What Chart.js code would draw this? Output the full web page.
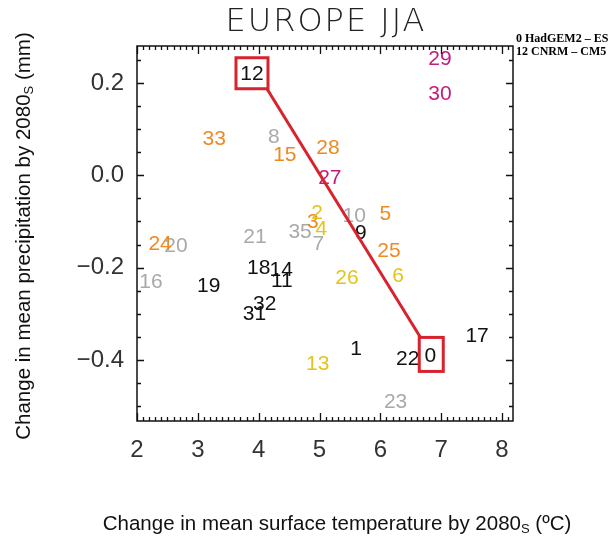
<!DOCTYPE html>
<html>
<head>
<meta charset="utf-8">
<script src="https://cdn.jsdelivr.net/npm/chart.js@4.4.0/dist/chart.umd.min.js"></script>
<style>
  html, body { margin: 0; padding: 0; background: #fff; }
</style>
</head>
<body>
<canvas id="chart" width="613" height="539"></canvas>
<script>
// Model numbers and their (temperature, precipitation) change, grouped by colour
const blackIds = ['0', '1', '9', '12', '14', '11', '17', '18', '19', '22', '31', '32'];
const blackTemp = [6.82, 5.60, 5.68, 3.89, 4.37, 4.38, 7.59, 4.00, 3.18, 6.45, 3.93, 4.10];
const blackPrecip = [-0.390, -0.375, -0.123, 0.221, -0.204, -0.228, -0.347, -0.199, -0.237, -0.397, -0.299, -0.277];

const orangeIds = ['3', '5', '15', '24', '25', '28', '33'];
const orangeTemp = [4.89, 6.08, 4.43, 2.38, 6.14, 5.14, 3.27];
const orangePrecip = [-0.100, -0.082, 0.046, -0.147, -0.162, 0.061, 0.080];

const magentaIds = ['27', '29', '30'];
const magentaTemp = [5.17, 6.98, 6.98];
const magentaPrecip = [-0.004, 0.254, 0.178];

const yellowIds = ['2', '4', '6', '13', '26'];
const yellowTemp = [4.96, 5.03, 6.29, 4.97, 5.45];
const yellowPrecip = [-0.080, -0.115, -0.217, -0.407, -0.220];

const grayIds = ['7', '8', '10', '16', '20', '21', '23', '35'];
const grayTemp = [4.98, 4.25, 5.57, 2.23, 2.64, 3.94, 6.25, 4.68];
const grayPrecip = [-0.147, 0.085, -0.087, -0.230, -0.152, -0.132, -0.489, -0.121];

// red line joining the two highlighted models
const lineTemp = [4.133, 6.655];
const linePrecip = [0.188, -0.350];
const highlightIds = ['12', '0'];

const xTickValues = [2, 3, 4, 5, 6, 7, 8];
const yTickValues = [-0.4, -0.2, 0.0, 0.2];
const legendLines = ['0 HadGEM2 \u2013 ES', '12 CNRM \u2013 CM5'];

function toPoints(xs, ys) {
    return xs.map((x, i) => ({ x: x, y: ys[i] }));
}

function labelSet(ids, xs, ys, color) {
    return {
        type: 'scatter',
        data: toPoints(xs, ys),
        modelIds: ids,
        textColor: color,
        pointRadius: 0,
        pointHoverRadius: 0
    };
}

// Draws the model numbers at their points
const numberLabels = {
    id: 'numberLabels',
    beforeDatasetsDraw(chart) {
        const ctx = chart.ctx;
        ctx.save();
        ctx.font = '21px "Liberation Sans", Arial, sans-serif';
        ctx.textAlign = 'center';
        ctx.textBaseline = 'middle';
        chart.data.datasets.forEach((ds, di) => {
            if (!ds.modelIds) return;
            const meta = chart.getDatasetMeta(di);
            ctx.fillStyle = ds.textColor;
            meta.data.forEach((pt, i) => {
                ctx.fillText(ds.modelIds[i], pt.x, pt.y + 1);
            });
        });
        ctx.restore();
    },
    afterDatasetsDraw(chart) {
        // red boxes round the highlighted models
        const ctx = chart.ctx;
        const sizes = { '12': [32, 31], '0': [24, 34] };
        const offs = { '12': [0, 0], '0': [1, -1] };
        ctx.save();
        ctx.strokeStyle = '#d6232d';
        ctx.lineWidth = 3;
        chart.data.datasets.forEach((ds, di) => {
            if (!ds.modelIds) return;
            const meta = chart.getDatasetMeta(di);
            ds.modelIds.forEach((id, i) => {
                if (highlightIds.indexOf(id) < 0) return;
                const pt = meta.data[i];
                const [w, h] = sizes[id];
                const [ox, oy] = offs[id];
                ctx.strokeRect(pt.x - w / 2 + ox, pt.y - h / 2 + oy, w, h);
            });
        });
        ctx.restore();
    }
};

// Box round the plot with inward ticks on all four sides, titles and legend
const frame = {
    id: 'frame',
    afterDraw(chart) {
        const ctx = chart.ctx;
        const a = chart.chartArea;
        const xs = chart.scales.x;
        const ys = chart.scales.y;
        ctx.save();
        ctx.strokeStyle = '#111';
        ctx.lineWidth = 1.5;
        ctx.strokeRect(a.left, a.top, a.right - a.left, a.bottom - a.top);
        ctx.lineWidth = 1.3;
        ctx.beginPath();
        for (let k = 20; k <= 81; k++) {
            const v = k / 10;
            const px = Math.round(xs.getPixelForValue(v)) + 0.5;
            const len = k % 10 === 0 ? 8 : 4;
            ctx.moveTo(px, a.bottom); ctx.lineTo(px, a.bottom - len);
            ctx.moveTo(px, a.top); ctx.lineTo(px, a.top + len);
        }
        for (let k = -10; k <= 5; k++) {
            const v = k * 0.05;
            const py = Math.round(ys.getPixelForValue(v)) + 0.5;
            const len = k % 4 === 0 ? 7 : 4;
            ctx.moveTo(a.left, py); ctx.lineTo(a.left + len, py);
            ctx.moveTo(a.right, py); ctx.lineTo(a.right - len, py);
        }
        ctx.stroke();

        // title
        ctx.fillStyle = '#222';
        ctx.font = '200 32px "DejaVu Sans", sans-serif';
        ctx.letterSpacing = '2px';
        ctx.textAlign = 'center';
        ctx.textBaseline = 'alphabetic';
        ctx.fillText('EUROPE JJA', 326, 31);
        ctx.letterSpacing = '0px';

        // legend
        ctx.fillStyle = '#000';
        ctx.font = 'bold 12px "Liberation Serif", "Times New Roman", serif';
        ctx.textAlign = 'left';
        ctx.fillText(legendLines[0], 516, 42);
        ctx.fillText(legendLines[1], 516, 55);

        // axis titles with subscript S
        drawSubTitle(ctx, 'Change in mean surface temperature by 2080', 'S', ' (\u00baC)', 337, 530, 0);
        drawSubTitle(ctx, 'Change in mean precipitation by 2080', 'S', ' (mm)', 30, 236, -Math.PI / 2);
        ctx.restore();
    }
};

function drawSubTitle(ctx, main, sub, tail, cx, cy, rot) {
    const big = '20.5px "Liberation Sans", Arial, sans-serif';
    const small = '13px "Liberation Sans", Arial, sans-serif';
    ctx.save();
    ctx.translate(cx, cy);
    ctx.rotate(rot);
    ctx.fillStyle = '#111';
    ctx.textAlign = 'left';
    ctx.textBaseline = 'alphabetic';
    ctx.font = big;
    const w1 = ctx.measureText(main).width;
    const w3 = ctx.measureText(tail).width;
    ctx.font = small;
    const w2 = ctx.measureText(sub).width;
    let x = -(w1 + w2 + w3) / 2;
    ctx.font = big;
    ctx.fillText(main, x, 0);
    x += w1;
    ctx.font = small;
    ctx.fillText(sub, x, 3);
    x += w2;
    ctx.font = big;
    ctx.fillText(tail, x, 0);
    ctx.restore();
}

const tickFont = { family: '"Liberation Sans", Arial, sans-serif', size: 24 };

new Chart(document.getElementById('chart'), {
    type: 'scatter',
    data: {
        datasets: [
            labelSet(grayIds, grayTemp, grayPrecip, '#a9a9a9'),
            labelSet(blackIds, blackTemp, blackPrecip, '#111111'),
            labelSet(magentaIds, magentaTemp, magentaPrecip, '#c01c7c'),
            labelSet(orangeIds, orangeTemp, orangePrecip, '#ef8a22'),
            labelSet(yellowIds, yellowTemp, yellowPrecip, '#e4c41c'),
            {
                type: 'line',
                data: toPoints(lineTemp, linePrecip),
                borderColor: '#d6232d',
                borderWidth: 3,
                pointRadius: 0,
                fill: false
            }
        ]
    },
    options: {
        responsive: false,
        animation: false,
        events: [],
        layout: { padding: { left: 0, top: 46, right: 100, bottom: 0 } },
        plugins: { legend: { display: false }, tooltip: { enabled: false }, title: { display: false } },
        scales: {
            x: {
                type: 'linear',
                min: 2,
                max: 8.18,
                afterBuildTicks: s => { s.ticks = xTickValues.map(v => ({ value: v })); },
                afterFit: s => { s.height = 118; },
                grid: { display: false, drawTicks: false },
                border: { display: false },
                ticks: { font: tickFont, color: '#333', padding: 15, maxRotation: 0 }
            },
            y: {
                type: 'linear',
                min: -0.532,
                max: 0.28,
                afterBuildTicks: s => { s.ticks = yTickValues.map(v => ({ value: v })); },
                afterFit: s => { s.width = 137; },
                grid: { display: false, drawTicks: false },
                border: { display: false },
                ticks: {
                    font: tickFont,
                    color: '#333',
                    padding: 13,
                    callback: v => (v < 0 ? '\u2212' : '') + Math.abs(v).toFixed(1)
                }
            }
        }
    },
    plugins: [numberLabels, frame]
});
</script>
</body>
</html>
